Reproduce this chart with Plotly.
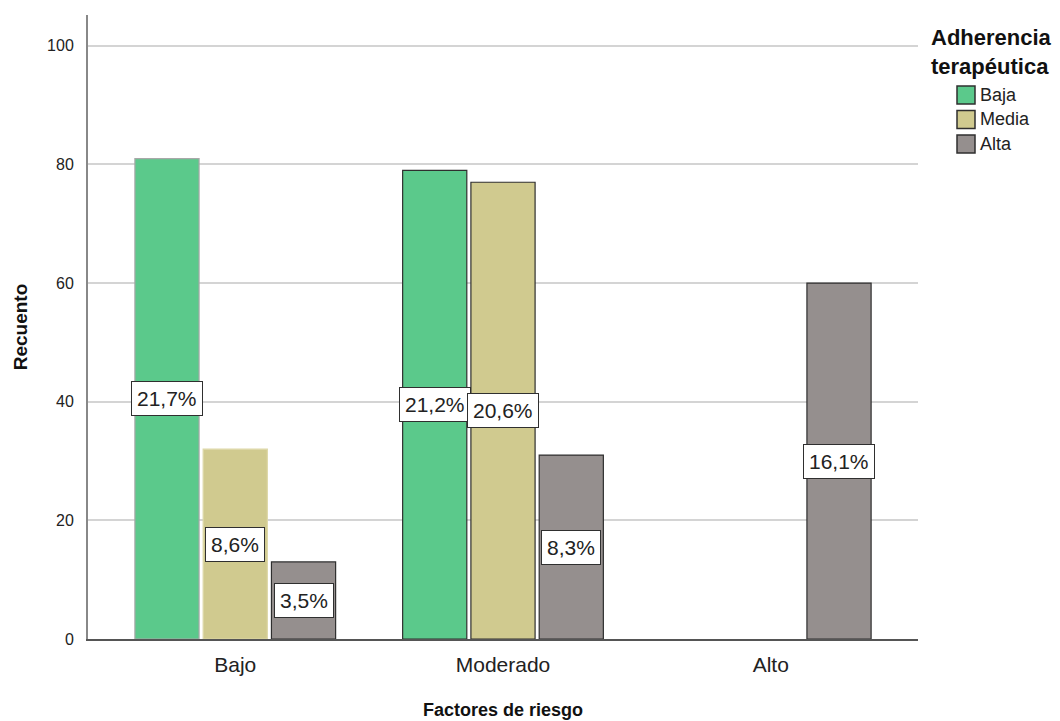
import plotly.graph_objects as go

# Recuento por factor de riesgo y nivel de adherencia terapéutica
categorias = ["Bajo", "Moderado", "Alto"]
series = ["Baja", "Media", "Alta"]
baja = [81, 79, None]
media = [32, 77, None]
alta = [13, 31, 60]
etiquetas_baja = ["21,7%", "21,2%", None]
etiquetas_media = ["8,6%", "20,6%", None]
etiquetas_alta = ["3,5%", "8,3%", "16,1%"]
y_ticks = [0, 20, 40, 60, 80, 100]

colores = {"Baja": "#5bc98b", "Media": "#d0ca8f", "Alta": "#958f8e"}
bordes = {
    "Baja": ["#a8a8a8", "#2f2f2f", "#2f2f2f"],
    "Media": ["#ddd8a8", "#2f2f2f", "#2f2f2f"],
    "Alta": ["#2f2f2f", "#2f2f2f", "#2f2f2f"],
}
valores = {"Baja": baja, "Media": media, "Alta": alta}
etiquetas = {"Baja": etiquetas_baja, "Media": etiquetas_media, "Alta": etiquetas_alta}

FONT = "Liberation Sans, Arial, sans-serif"
W, H = 1060, 721
ML, MR, MT, MB = 88, 142, 15, 82
BARGAP = 0.235
BARGROUPGAP = 0.06


def px_x(px):
    """Pixel column -> paper x."""
    return (px - ML) / (W - ML - MR)


def px_y(py):
    """Pixel row -> paper y."""
    return (H - MB - py) / (H - MT - MB)


fig = go.Figure()
for s in series:
    fig.add_trace(go.Bar(
        name=s,
        x=categorias,
        y=valores[s],
        marker=dict(color=colores[s], line=dict(color=bordes[s], width=1.2)),
        hoverinfo="x+y+name",
        showlegend=False,
    ))

# Etiquetas de porcentaje en el centro de cada barra
slot = (1 - BARGAP) / len(series)
for i, s in enumerate(series):
    offset = (i - (len(series) - 1) / 2) * slot
    for j, (v, t) in enumerate(zip(valores[s], etiquetas[s])):
        if v is None or t is None:
            continue
        fig.add_annotation(
            x=j + offset, y=v / 2, xref="x", yref="y",
            text=t, showarrow=False,
            font=dict(family=FONT, size=21, color="#222222"),
            bgcolor="#ffffff", bordercolor="#2f2f2f", borderwidth=1, borderpad=5,
        )

# Leyenda: título, muestras de color y nombres
fig.add_annotation(
    x=px_x(929), y=px_y(23), xref="paper", yref="paper",
    xanchor="left", yanchor="top", align="left",
    text="<b>Adherencia<br>terapéutica</b>", showarrow=False,
    font=dict(family=FONT, size=22, color="#111111"),
)
for k, s in enumerate(series):
    cy = 95 + k * 24.5
    fig.add_shape(
        type="rect", xref="paper", yref="paper",
        x0=px_x(957), x1=px_x(975), y0=px_y(cy - 9), y1=px_y(cy + 9),
        fillcolor=colores[s], line=dict(color="#2f2f2f", width=1.5),
    )
    fig.add_annotation(
        x=px_x(978), y=px_y(cy), xref="paper", yref="paper",
        xanchor="left", yanchor="middle", text=s, showarrow=False,
        font=dict(family=FONT, size=18, color="#222222"),
    )

fig.update_layout(
    width=W, height=H,
    margin=dict(l=ML, r=MR, t=MT, b=MB, autoexpand=False),
    paper_bgcolor="#ffffff", plot_bgcolor="#ffffff",
    barmode="group", bargap=BARGAP, bargroupgap=BARGROUPGAP,
    font=dict(family=FONT, color="#222222"),
    showlegend=False,
    xaxis=dict(
        type="category", range=[-0.55, 2.55], automargin=False,
        showline=True, linecolor="#555555", linewidth=1.5,
        ticks="", tickfont=dict(family=FONT, size=21, color="#222222"),
        ticklabelstandoff=6,
        title=dict(text="<b>Factores de riesgo</b>", font=dict(family=FONT, size=18, color="#111111"), standoff=28),
        showgrid=False,
    ),
    yaxis=dict(
        range=[0, 105.2], tickvals=y_ticks, automargin=False,
        showline=True, linecolor="#888888", linewidth=2,
        ticks="", tickfont=dict(family=FONT, size=16, color="#222222"),
        ticklabelstandoff=9,
        showgrid=True, gridcolor="#d4d4d4", gridwidth=1.5,
        zeroline=False,
        title=dict(text="<b>Recuento</b>", font=dict(family=FONT, size=19, color="#111111"), standoff=14),
    ),
)

fig.write_html("out.html")
